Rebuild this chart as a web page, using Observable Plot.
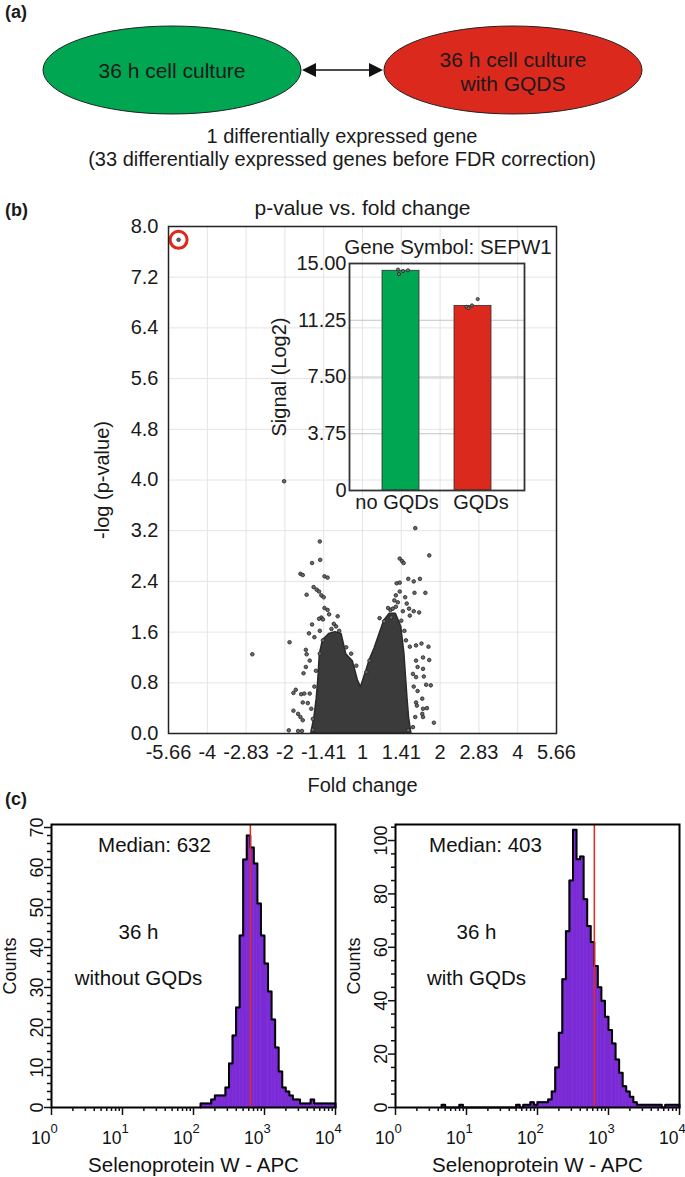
<!DOCTYPE html>
<html><head><meta charset="utf-8">
<script src="https://cdn.jsdelivr.net/npm/d3@7"></script>
<script src="https://cdn.jsdelivr.net/npm/@observablehq/plot@0.6"></script>
<style>
body{margin:0;background:#fff;}
#root{position:relative;width:685px;height:1177px;overflow:hidden;font-family:"Liberation Sans",Arial,sans-serif;color:#1a1a1a;}
.plab{position:absolute;font-weight:bold;font-size:18px;line-height:18px;}
#root svg{position:absolute;overflow:visible;}
</style></head><body><div id="root"></div>
<script>
const FONT = '"Liberation Sans", Arial, sans-serif';

// ---------- Panel (a) text ----------
const conditionA = ["36 h cell culture"];
const conditionB = ["36 h cell culture", "with GQDS"];
const summaryLines = ["1 differentially expressed gene", "(33 differentially expressed genes before FDR correction)"];

// ---------- Panel (b): volcano ----------
const foldTicks = [-2.5, -2, -1.5, -1, -0.5, 0, 0.5, 1, 1.5, 2, 2.5];
const foldTickLabels = ["-5.66", "-4", "-2.83", "-2", "-1.41", "1", "1.41", "2", "2.83", "4", "5.66"];
const pTicks = [0, 0.8, 1.6, 2.4, 3.2, 4.0, 4.8, 5.6, 6.4, 7.2, 8.0];
// dense core of the cloud (upper envelope)
const coreLog2FC = [-0.66, -0.62, -0.59, -0.57, -0.55, -0.51, -0.43, -0.35, -0.27, -0.21, -0.125, -0.06, -0.02, 0.05, 0.09, 0.155, 0.22, 0.28, 0.35, 0.43, 0.50, 0.54, 0.56, 0.58, 0.60, 0.63];
const coreNegLogP = [0, 0.25, 0.55, 0.84, 1.25, 1.47, 1.57, 1.60, 1.57, 1.25, 1.14, 0.84, 0.73, 0.99, 1.15, 1.34, 1.57, 1.78, 1.89, 1.89, 1.68, 1.26, 0.90, 0.55, 0.25, 0];
// individual genes outside the core
const geneLog2FC = [0.68, -0.55, 0.86, -0.65, -0.545, 0.48, 0.51, 0.53, -0.80, -0.77, -0.49, -0.45, 0.44, 0.48, 0.59, 0.66, 0.74, -0.63, -0.59, -0.56, -0.72, -0.53, -0.50, 0.67, 0.81, 0.48, 0.43, 0.41, 0.455, 0.55, 0.57, 0.60, -0.49, -0.45, -0.43, -0.32, -0.53, -0.56, -0.51, 0.33, 0.36, 0.52, 0.61, 0.66, 0.73, 0.22, 0.28, -0.65, -0.69, -0.55, -0.62, -0.94, 0.76, 0.85, 0.69, 0.61, -0.73, -0.72, -0.68, -0.76, -0.73, 0.78, 0.86, 0.69, 0.71, 0.78, 0.65, -0.89, -0.86, -0.79, -0.75, -0.68, -0.77, -0.705, -0.66, -0.89, -0.83, -0.80, -0.77, -0.64, -0.95, -0.83, -0.78, -0.64, 0.82, 0.88, 0.77, 0.69, 0.70, 0.78, 0.83, 0.77, 0.68, 0.78, 0.92, 0.65, 0.59, 0.71, 0.66, 0.69, 0.79, -1.01, -1.42, -0.40, -0.34, -0.30, -0.37, 0.39, 0.43, 0.37, 0.50, 0.54, 0.56, -0.51, -0.55, -0.60, -0.62, 0.09, 0.05, -0.08, -0.146, -0.21];
const geneNegLogP = [3.24, 3.03, 2.81, 2.69, 2.74, 2.76, 2.72, 2.69, 2.52, 2.50, 2.48, 2.46, 2.37, 2.38, 2.44, 2.40, 2.44, 2.31, 2.27, 2.24, 2.19, 2.18, 2.15, 2.22, 2.22, 2.24, 2.18, 2.10, 2.07, 2.15, 2.05, 1.97, 1.98, 1.95, 1.88, 1.85, 1.83, 1.81, 1.80, 1.98, 1.95, 1.93, 1.86, 1.93, 1.91, 1.82, 1.77, 1.72, 1.58, 1.62, 1.52, 1.44, 1.42, 1.37, 1.39, 1.37, 1.32, 1.25, 1.15, 0.95, 1.05, 1.20, 1.16, 1.15, 1.05, 1.02, 0.94, 0.64, 0.69, 0.62, 0.63, 0.63, 0.49, 0.48, 0.39, 0.36, 0.31, 0.26, 0.21, 0.23, 0.05, 0.04, 0.04, 0.06, 0.77, 0.76, 0.55, 0.49, 0.44, 0.39, 0.40, 0.31, 0.26, 0.26, 0.17, 0.10, 0.05, 0.67, 0.74, 0.89, 0.90, 3.98, 1.25, 1.65, 1.69, 1.62, 1.73, 1.97, 2.00, 1.83, 1.78, 1.62, 1.47, 1.47, 1.26, 0.99, 0.74, 1.15, 0.97, 1.07, 1.26, 1.36];
const sepw1Log2FC = -2.37;
const sepw1NegLogP = 7.79;

// ---------- Inset: SEPW1 signal ----------
const barGroups = ["no GQDs", "GQDs"];
const barMeans = [14.52, 12.20];
const replicatesNoGQDs = [14.60, 14.50, 14.55, 14.30];
const replicatesGQDs = [12.14, 12.05, 12.23, 12.65];
const signalTicks = [0, 3.75, 7.5, 11.25, 15];
const signalTickLabels = ["0", "3.75", "7.50", "11.25", "15.00"];

// ---------- Panel (c): flow cytometry histograms ----------
const binWidthLog = 0.05;
const leftBinLog = [2.10, 2.15, 2.20, 2.25, 2.30, 2.35, 2.40, 2.45, 2.50, 2.55, 2.60, 2.65, 2.70, 2.75, 2.80, 2.85, 2.90, 2.95, 3.00, 3.05, 3.10, 3.15, 3.20, 3.25, 3.30, 3.35, 3.40, 3.45, 3.50, 3.55, 3.60, 3.65, 3.70, 3.75, 3.80, 3.85, 3.90, 3.95];
const leftCounts = [1, 1, 1, 2, 3, 3, 3, 5, 11, 18, 25, 43, 62, 68, 65, 61, 51, 43, 36, 29, 22, 15, 9, 5, 4, 3, 2, 2, 1, 1, 1, 2, 1, 1, 1, 1, 1, 1];
const rightBinLog = [0.65, 0.90, 1.70, 1.80, 1.85, 1.90, 1.95, 2.00, 2.05, 2.10, 2.15, 2.20, 2.25, 2.30, 2.35, 2.40, 2.45, 2.50, 2.55, 2.60, 2.65, 2.70, 2.75, 2.80, 2.85, 2.90, 2.95, 3.00, 3.05, 3.10, 3.15, 3.20, 3.25, 3.30, 3.35, 3.40, 3.45, 3.50, 3.55, 3.60, 3.65, 3.70, 3.80, 3.85, 3.90, 3.95];
const rightCounts = [1, 1, 1, 1, 1, 2, 1, 2, 2, 2, 3, 6, 15, 28, 48, 66, 85, 104, 93, 94, 78, 68, 62, 53, 45, 40, 34, 29, 24, 18, 13, 8, 6, 4, 2, 1, 1, 1, 1, 1, 1, 1, 1, 1, 1, 1];
const medianReference = 632;
const leftMedianText = "Median: 632";
const rightMedianText = "Median: 403";
const decadeTicks = [1, 10, 100, 1000, 10000];
const decadeExponents = ["0", "1", "2", "3", "4"];
const minorLogTicks = [2,3,4,5,6,7,8,9,20,30,40,50,60,70,80,90,200,300,400,500,600,700,800,900,2000,3000,4000,5000,6000,7000,8000,9000];

const root = document.getElementById("root");
function label(txt, x, y) {
  const d = document.createElement("div");
  d.className = "plab"; d.textContent = txt;
  d.style.left = x + "px"; d.style.top = y + "px";
  root.appendChild(d);
}
function place(svg, left, top) {
  svg.style.left = left + "px"; svg.style.top = top + "px";
  root.appendChild(svg);
}

// ---------- Panel (a) ----------
label("(a)", 5, 3);
const GREEN = "#00a651", RED = "#dc291e";
const sa = d3.select(root).append("svg").attr("width", 685).attr("height", 190)
  .style("left", "0px").style("top", "0px").attr("font-family", FONT);
sa.append("ellipse").attr("cx", 172).attr("cy", 70).attr("rx", 129).attr("ry", 44).attr("fill", GREEN).attr("stroke", "#222").attr("stroke-width", 1);
sa.append("ellipse").attr("cx", 513).attr("cy", 70).attr("rx", 129).attr("ry", 44).attr("fill", RED).attr("stroke", "#222").attr("stroke-width", 1);
sa.append("line").attr("x1", 314).attr("x2", 371).attr("y1", 70).attr("y2", 70).attr("stroke", "#111").attr("stroke-width", 1.6);
sa.append("polygon").attr("points", "302,70 316,63 316,77").attr("fill", "#111");
sa.append("polygon").attr("points", "383,70 369,63 369,77").attr("fill", "#111");
sa.append("text").attr("x", 172).attr("y", 78).attr("text-anchor", "middle").attr("font-size", 21).attr("fill", "#1a1a1a").text(conditionA[0]);
conditionB.forEach((t, i) => sa.append("text").attr("x", 513).attr("y", 67 + i * 24).attr("text-anchor", "middle").attr("font-size", 21).attr("fill", "#1a1a1a").text(t));
summaryLines.forEach((t, i) => sa.append("text").attr("x", 342).attr("y", 143 + i * 23).attr("text-anchor", "middle").attr("font-size", 20).attr("fill", "#1a1a1a").text(t));

// ---------- Panel (b) ----------
label("(b)", 5, 201);
const core = coreLog2FC.map((x, i) => ({x, y: coreNegLogP[i]}));
const genes = geneLog2FC.map((x, i) => ({x, y: geneNegLogP[i]}));
const volcano = Plot.plot({
  width: 685, height: 600,
  marginLeft: 168, marginRight: 129, marginTop: 31, marginBottom: 62,
  style: {fontFamily: FONT, fontSize: "20px", color: "#1a1a1a", background: "transparent", overflow: "visible"},
  x: {domain: [-2.5, 2.5]},
  y: {domain: [0, 8]},
  marks: [
    Plot.gridX(foldTicks, {stroke: "#e4e4e4", strokeOpacity: 1}),
    Plot.gridY(pTicks, {stroke: "#e4e4e4", strokeOpacity: 1}),
    Plot.areaY(core, {x: "x", y: "y", fill: "#3b3b3b", stroke: "#2a2a2a", strokeWidth: 1.5}),
    Plot.dot(genes, {x: "x", y: "y", r: 1.8, fill: "#6a6a6a", stroke: "#222", strokeWidth: 0.8}),
    Plot.dot([{x: sepw1Log2FC, y: sepw1NegLogP}], {x: "x", y: "y", r: 1.8, fill: "#6a6a6a", stroke: "#222", strokeWidth: 0.8}),
    Plot.dot([{x: sepw1Log2FC, y: sepw1NegLogP}], {x: "x", y: "y", r: 8.5, stroke: "#e1261c", strokeWidth: 3, fill: "none"}),
    Plot.frame({stroke: "#222", strokeWidth: 1.5}),
    Plot.axisX(foldTicks, {tickSize: 0, tickPadding: 11, tickFormat: d => foldTickLabels[foldTicks.indexOf(d)], fontSize: 20,
      label: "Fold change", labelAnchor: "center", labelArrow: "none", labelOffset: 58}),
    Plot.axisY(pTicks, {tickSize: 0, tickPadding: 10, tickFormat: d3.format(".1f"), fontSize: 20,
      label: "-log (p-value)", labelAnchor: "center", labelArrow: "none", labelOffset: 74}),
    Plot.text(["p-value vs. fold change"], {frameAnchor: "top", lineAnchor: "middle", dy: -18, fontSize: 21, fill: "#1a1a1a"})
  ]
});
place(volcano, 0, 195);

// inset
const bars = barGroups.map((g, i) => ({g, v: barMeans[i]}));
const repSets = [replicatesNoGQDs, replicatesGQDs];
const jitter = [[-3, 2, 7, -2], [-6.5, -4.5, -1, 4.7]];
const labelShift = [-4, 8];
const repMarks = [];
repSets.forEach((vals, gi) => vals.forEach((v, ri) => {
  repMarks.push(Plot.dot([{g: barGroups[gi], v}], {x: "g", y: "v", r: 1.6, fill: "#777", stroke: "#222", strokeWidth: 0.8, dx: jitter[gi][ri]}));
}));
const groupLabelMarks = barGroups.map((g, gi) =>
  Plot.text([g], {x: d => d, text: d => d, frameAnchor: "bottom", lineAnchor: "top", dy: 4, dx: labelShift[gi], fontSize: 20, fill: "#1a1a1a"}));
const inset = Plot.plot({
  width: 280, height: 300,
  marginLeft: 89, marginRight: 16, marginTop: 33, marginBottom: 40,
  style: {fontFamily: FONT, fontSize: "20px", color: "#1a1a1a", background: "transparent", overflow: "visible"},
  x: {domain: barGroups, paddingInner: 0.49, paddingOuter: 0.46, axis: null},
  y: {domain: [0, 15]},
  color: {domain: barGroups, range: [GREEN, RED]},
  marks: [
    Plot.gridY(signalTicks.slice(1, 4), {stroke: "#c4c4c4", strokeOpacity: 1, strokeWidth: 1}),
    Plot.barY(bars, {x: "g", y: "v", fill: "g", stroke: "#2f2f2f", strokeWidth: 0.8}),
    ...repMarks,
    Plot.frame({stroke: "#333", strokeWidth: 1.8}),
    ...groupLabelMarks,
    Plot.axisY(signalTicks, {tickSize: 0, tickPadding: 3, tickFormat: d => signalTickLabels[signalTicks.indexOf(d)], fontSize: 20,
      label: "Signal (Log2)", labelAnchor: "center", labelArrow: "none", labelOffset: 78}),
    Plot.text(["Gene Symbol: SEPW1"], {frameAnchor: "top", lineAnchor: "middle", dx: 11, dy: -16, fontSize: 20.5, fill: "#1a1a1a"})
  ]
});
place(inset, 260, 230);

// ---------- Panel (c) ----------
label("(c)", 5, 790);
const PURPLE = "#7b2bd5";
function histogram(binLog, counts, yMax, yMajor, yMinor, medianText, line1, line2, medDx, textDx, left, mLeft, mRight, w) {
  const bins = binLog.map((l, i) => ({lo: l, x1: 10 ** l, x2: 10 ** (l + binWidthLog), y: counts[i]}));
  const pts = [];
  bins.forEach((b, i) => {
    const prev = bins[i - 1], next = bins[i + 1];
    if (!prev || Math.abs(prev.lo + binWidthLog - b.lo) > 1e-6) pts.push({x: b.x1, y: 0});
    pts.push({x: b.x1, y: b.y}, {x: b.x2, y: b.y});
    if (!next || Math.abs(b.lo + binWidthLog - next.lo) > 1e-6) pts.push({x: b.x2, y: 0});
  });
  const svg = Plot.plot({
    width: w, height: 377,
    marginLeft: mLeft, marginRight: mRight, marginTop: 24, marginBottom: 70,
    style: {fontFamily: FONT, fontSize: "18px", color: "#111", background: "transparent", overflow: "visible"},
    x: {type: "log", domain: [1, 10000]},
    y: {domain: [0, yMax]},
    marks: [
      Plot.rectY(bins, {x1: "x1", x2: "x2", y: "y", fill: PURPLE, stroke: PURPLE, strokeWidth: 0.6}),
      Plot.line(pts, {x: "x", y: "y", stroke: "#000", strokeWidth: 2}),
      Plot.ruleX([medianReference], {stroke: "#e3281d", strokeWidth: 1.5}),
      Plot.frame({stroke: "#000", strokeWidth: 2}),
      Plot.axisY(yMinor, {tickSize: 4, tickFormat: () => "", strokeWidth: 1.5, label: null}),
      Plot.axisY(yMajor, {tickSize: 7, tickPadding: 2, tickRotate: -90, strokeWidth: 1.5, fontSize: 18,
        label: "Counts", labelAnchor: "center", labelArrow: "none", labelOffset: 48}),
      Plot.axisX(minorLogTicks, {tickSize: 4, tickFormat: () => "", strokeWidth: 1.5, label: null}),
      Plot.axisX(decadeTicks, {tickSize: 8, tickFormat: () => "", strokeWidth: 1.5, label: null}),
      Plot.text(decadeTicks, {x: d => d, text: () => "10", frameAnchor: "bottom", lineAnchor: "middle", dy: 31, dx: -1, textAnchor: "end", fontSize: 17.5, fill: "#111"}),
      Plot.text(decadeTicks, {x: d => d, text: d => decadeExponents[decadeTicks.indexOf(d)], frameAnchor: "bottom", lineAnchor: "middle", dy: 21, dx: -1, textAnchor: "start", fontSize: 13, fill: "#111"}),
      Plot.text(["Selenoprotein W - APC"], {frameAnchor: "bottom", lineAnchor: "middle", dy: 58, fontSize: 20.5, fill: "#111"}),
      Plot.text([medianText], {frameAnchor: "top-left", lineAnchor: "middle", dx: medDx, dy: 21, fontSize: 20.5, textAnchor: "middle", fill: "#111"}),
      Plot.text([line1], {frameAnchor: "top-left", lineAnchor: "middle", dx: textDx, dy: 108, fontSize: 20.5, textAnchor: "middle", fill: "#111"}),
      Plot.text([line2], {frameAnchor: "top-left", lineAnchor: "middle", dx: textDx, dy: 154, fontSize: 20.5, textAnchor: "middle", fill: "#111"})
    ]
  });
  place(svg, left, 800);
}
const leftMajor = [0, 10, 20, 30, 40, 50, 60, 70];
const leftMinor = [2,4,6,8,12,14,16,18,22,24,26,28,32,34,36,38,42,44,46,48,52,54,56,58,62,64,66,68];
const rightMajor = [0, 20, 40, 60, 80, 100];
const rightMinor = [5,10,15,25,30,35,45,50,55,65,70,75,85,90,95,105];
histogram(leftBinLog, leftCounts, 70.75, leftMajor, leftMinor, leftMedianText, "36 h", "without GQDs", 103, 87, 0, 51, 10, 345);
histogram(rightBinLog, rightCounts, 106, rightMajor, rightMinor, rightMedianText, "36 h", "with GQDs", 90, 81, 345, 50, 6, 340);
</script>
</body></html>
